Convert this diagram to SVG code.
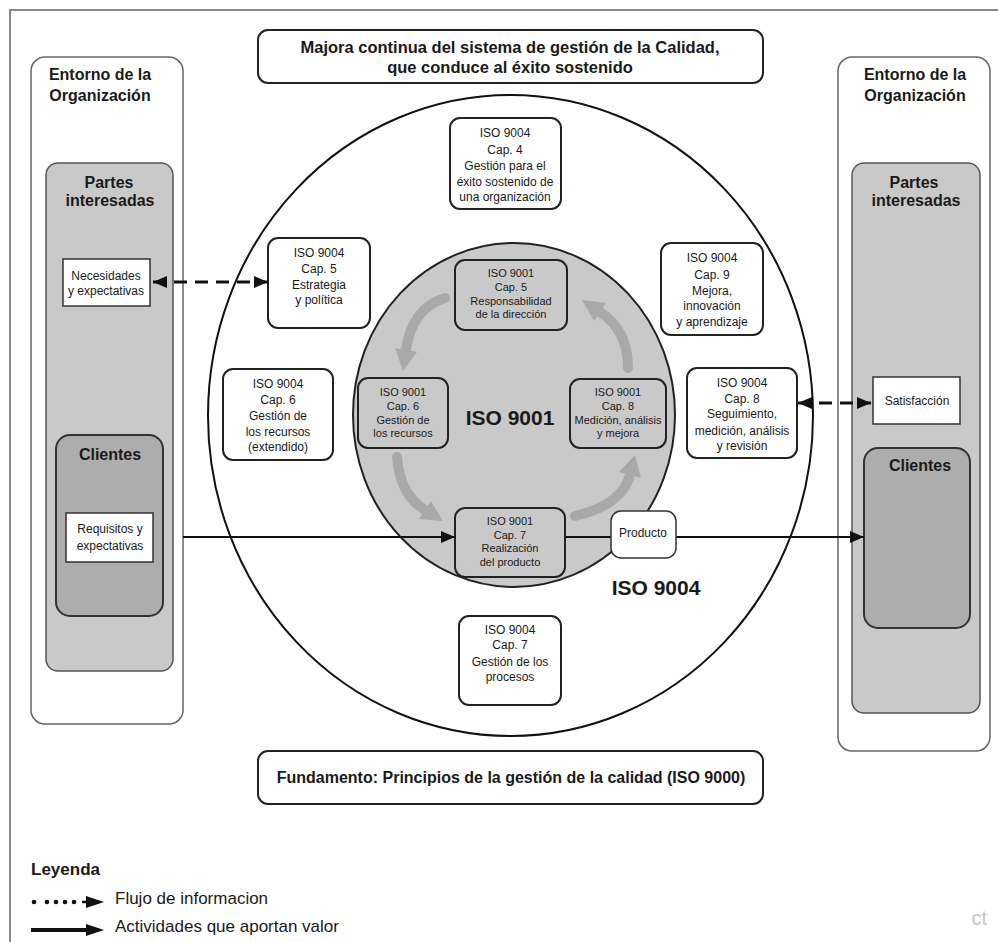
<svg xmlns="http://www.w3.org/2000/svg" width="998" height="942" viewBox="0 0 998 942">
<defs>
<style>
text{font-family:"Liberation Sans",Arial,sans-serif;fill:#1a1a1a;text-anchor:middle}
.b{font-weight:bold}
.t16{font-size:16px}
.t12{font-size:12px}
.t11{font-size:11px}
.env{fill:#fff;stroke:#666;stroke-width:1.5}
.partes{fill:#c9c9c9;stroke:#555;stroke-width:1.5}
.cli{fill:#adadad;stroke:#333;stroke-width:2}
.wbox{fill:#fff;stroke:#333;stroke-width:1.5}
.box4{fill:#fff;stroke:#222;stroke-width:2}
.box1{fill:#c9c9c9;stroke:#222;stroke-width:2}
.conn{fill:none;stroke:#111;stroke-width:2}
.dash{fill:none;stroke:#111;stroke-width:3;stroke-dasharray:13 8}
.garr{fill:none;stroke:#a9a9a9;stroke-width:10;stroke-linecap:round}
.ghead{fill:#a9a9a9}
</style>
<marker id="ah" viewBox="0 0 14 12" refX="14" refY="6" markerWidth="14" markerHeight="12" markerUnits="userSpaceOnUse" orient="auto-start-reverse">
<path d="M0,0 L14,6 L0,12 z" fill="#111"/>
</marker>
</defs>
<rect width="998" height="942" fill="#fff"/>
<path d="M10 942 L10 10 L998 10" fill="none" stroke="#888" stroke-width="2"/>

<g id="title">
<rect x="258" y="30" width="505" height="53" rx="10" class="box4"/>
<text x="510" y="53" class="b" style="font-size:16.5px">Majora continua del sistema de gestión de la Calidad,</text>
<text x="510" y="73" class="b" style="font-size:16.5px">que conduce al éxito sostenido</text>
</g>

<g id="entorno-left">
<rect x="31" y="57" width="152" height="667" rx="14" class="env"/>
<text x="100" y="80" class="b t16">Entorno de la</text>
<text x="100" y="101" class="b t16">Organización</text>
</g>
<g id="partes-left">
<rect x="46" y="163" width="127" height="508" rx="12" class="partes"/>
<text x="109" y="188" class="b t16">Partes</text>
<text x="110" y="206" class="b t16">interesadas</text>
</g>
<g id="necesidades">
<rect x="63" y="259" width="87" height="47" class="wbox"/>
<text x="106" y="280" class="t12">Necesidades</text>
<text x="106" y="295" class="t12">y expectativas</text>
</g>
<g id="clientes-left">
<rect x="56" y="435" width="107" height="181" rx="14" class="cli"/>
<text x="110" y="460" class="b t16">Clientes</text>
</g>
<g id="requisitos">
<rect x="66" y="513" width="87" height="49" class="wbox"/>
<text x="110" y="533" class="t12">Requisitos y</text>
<text x="110" y="550" class="t12">expectativas</text>
</g>

<g id="entorno-right">
<rect x="838" y="57" width="152" height="694" rx="14" class="env"/>
<text x="915" y="80" class="b t16">Entorno de la</text>
<text x="915" y="101" class="b t16">Organización</text>
</g>
<g id="partes-right">
<rect x="852" y="163" width="128" height="550" rx="12" class="partes"/>
<text x="914" y="188" class="b t16">Partes</text>
<text x="916" y="206" class="b t16">interesadas</text>
</g>
<g id="satisfaccion">
<rect x="873" y="377" width="87" height="47" class="wbox"/>
<text x="917" y="405" class="t12">Satisfacción</text>
</g>
<g id="clientes-right">
<rect x="864" y="448" width="106" height="180" rx="14" class="cli"/>
<text x="920" y="471" class="b t16">Clientes</text>
</g>

<g id="iso9004-circle">
<ellipse cx="510.5" cy="415.5" rx="302.5" ry="320.5" fill="#fff" stroke="#111" stroke-width="2"/>
<text x="656" y="595" class="b" style="font-size:21px">ISO 9004</text>
</g>

<g id="iso9001-circle">
<ellipse cx="514" cy="415" rx="161" ry="172" fill="#c9c9c9" stroke="#222" stroke-width="2"/>
<text x="510" y="425" class="b" style="font-size:21px">ISO 9001</text>
</g>

<g id="cycle-arrows">
<path d="M445 298 Q412 308 406 350" class="garr"/>
<polygon points="417,352 395,348 403,371" class="ghead"/>
<path d="M397 457 Q400 495 425 510" class="garr"/>
<polygon points="431,501 419,519 443,521" class="ghead"/>
<path d="M575 516 Q622 505 630 475" class="garr"/>
<polygon points="641,478 619,472 635,455" class="ghead"/>
<path d="M628 368 Q628 330 600 312" class="garr"/>
<polygon points="606,303 594,321 582,300" class="ghead"/>
</g>

<g id="c4">
<rect x="450" y="118" width="111" height="91" rx="10" class="box4"/>
<text x="505" y="137" class="t12">ISO 9004</text>
<text x="505" y="154" class="t12">Cap. 4</text>
<text x="505" y="170" class="t12">Gestión para el</text>
<text x="505" y="186" class="t12">éxito sostenido de</text>
<text x="505" y="201" class="t12">una organización</text>
</g>
<g id="c5-9004">
<rect x="268" y="238" width="102" height="90" rx="10" class="box4"/>
<text x="319" y="257" class="t12">ISO 9004</text>
<text x="319" y="273" class="t12">Cap. 5</text>
<text x="319" y="289" class="t12">Estrategia</text>
<text x="319" y="304" class="t12">y política</text>
</g>
<g id="c9-9004">
<rect x="661" y="243" width="102" height="92" rx="10" class="box4"/>
<text x="712" y="262" class="t12">ISO 9004</text>
<text x="712" y="279" class="t12">Cap. 9</text>
<text x="712" y="295" class="t12">Mejora,</text>
<text x="712" y="310" class="t12">innovación</text>
<text x="712" y="326" class="t12">y aprendizaje</text>
</g>
<g id="c6-9004">
<rect x="223" y="369" width="110" height="91" rx="10" class="box4"/>
<text x="278" y="388" class="t12">ISO 9004</text>
<text x="278" y="404" class="t12">Cap. 6</text>
<text x="278" y="420" class="t12">Gestión de</text>
<text x="278" y="436" class="t12">los recursos</text>
<text x="278" y="451" class="t12">(extendido)</text>
</g>
<g id="c8-9004">
<rect x="687" y="368" width="110" height="90" rx="10" class="box4"/>
<text x="742" y="387" class="t12">ISO 9004</text>
<text x="742" y="403" class="t12">Cap. 8</text>
<text x="742" y="418" class="t12">Seguimiento,</text>
<text x="742" y="435" class="t12">medición, análisis</text>
<text x="742" y="450" class="t12">y revisión</text>
</g>
<g id="c7-9004">
<rect x="459" y="616" width="102" height="89" rx="10" class="box4"/>
<text x="510" y="634" class="t12">ISO 9004</text>
<text x="510" y="649" class="t12">Cap. 7</text>
<text x="510" y="666" class="t12">Gestión de los</text>
<text x="510" y="681" class="t12">procesos</text>
</g>

<g id="c5-9001">
<rect x="455" y="260" width="112" height="70" rx="10" class="box1"/>
<text x="511" y="277" class="t11">ISO 9001</text>
<text x="511" y="291" class="t11">Cap. 5</text>
<text x="511" y="305" class="t11">Responsabilidad</text>
<text x="511" y="318" class="t11">de la dirección</text>
</g>
<g id="c6-9001">
<rect x="358" y="378" width="90" height="70" rx="10" class="box1"/>
<text x="403" y="396" class="t11">ISO 9001</text>
<text x="403" y="410" class="t11">Cap. 6</text>
<text x="403" y="424" class="t11">Gestión de</text>
<text x="403" y="437" class="t11">los recursos</text>
</g>
<g id="c8-9001">
<rect x="570" y="379" width="96" height="69" rx="10" class="box1"/>
<text x="618" y="396" class="t11">ISO 9001</text>
<text x="618" y="410" class="t11">Cap. 8</text>
<text x="618" y="424" class="t11">Medición, análisis</text>
<text x="618" y="437" class="t11">y mejora</text>
</g>
<g id="c7-9001">
<rect x="455" y="508" width="110" height="69" rx="10" class="box1"/>
<text x="510" y="525" class="t11">ISO 9001</text>
<text x="510" y="539" class="t11">Cap. 7</text>
<text x="510" y="552" class="t11">Realización</text>
<text x="510" y="566" class="t11">del producto</text>
</g>

<g id="connectors">
<path d="M153 282 L268 282" class="dash" marker-start="url(#ah)" marker-end="url(#ah)"/>
<path d="M798 403 L871 403" class="dash" marker-start="url(#ah)" marker-end="url(#ah)"/>
<path d="M183 537 L455 537" class="conn" marker-end="url(#ah)"/>
<path d="M565 537 L611 537" class="conn"/>
<path d="M676 537 L864 537" class="conn" marker-end="url(#ah)"/>
</g>

<g id="producto">
<rect x="611" y="511" width="65" height="47" rx="10" class="wbox"/>
<text x="643" y="537" class="t12">Producto</text>
</g>

<g id="fundamento">
<rect x="258" y="751" width="505" height="53" rx="10" class="box4"/>
<text x="511" y="783" class="b t16">Fundamento: Principios de la gestión de la calidad (ISO 9000)</text>
</g>

<g id="legend">
<text x="31" y="875" class="b" style="font-size:17px;text-anchor:start">Leyenda</text>
<circle cx="34" cy="902" r="2.3" fill="#111"/>
<circle cx="47" cy="902" r="2.3" fill="#111"/>
<circle cx="56" cy="902" r="2.3" fill="#111"/>
<circle cx="65" cy="902" r="2.3" fill="#111"/>
<circle cx="74" cy="902" r="2.3" fill="#111"/>
<path d="M82 902 L90 902" stroke="#111" stroke-width="2.5"/>
<polygon points="86,896 104,902 86,908" fill="#111"/>
<text x="115" y="904" style="font-size:17px;text-anchor:start">Flujo de informacion</text>
<path d="M31 930 L90 930" stroke="#111" stroke-width="4"/>
<polygon points="86,924 104,930 86,936" fill="#111"/>
<text x="115" y="932" style="font-size:17px;text-anchor:start">Actividades que aportan valor</text>
</g>

<text x="987" y="925" style="font-size:20px;fill:#c4c4c4;text-anchor:end">ct</text>
</svg>
